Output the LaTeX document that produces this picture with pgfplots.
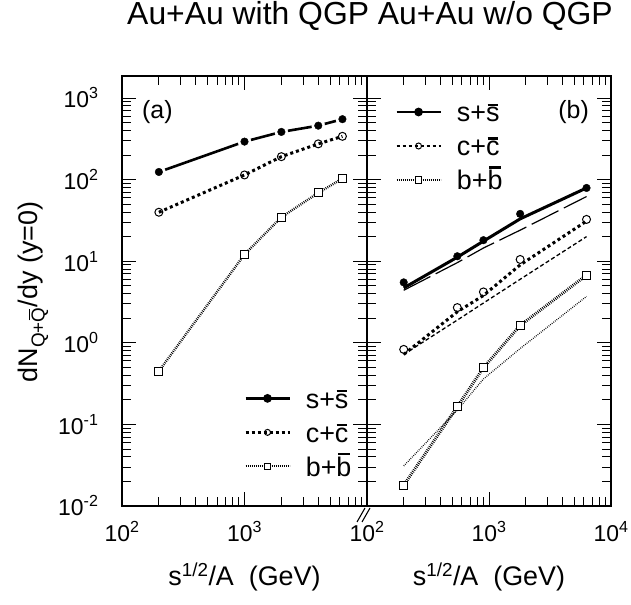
\documentclass[border=0pt]{standalone}
\usepackage{fontspec}
\setmainfont{Liberation Sans}
\usepackage{pgfplots}
\pgfplotsset{compat=1.18}
\usepackage{pgfplotstable}

\newcommand{\ob}[1]{\leavevmode\setbox0\hbox{#1}\rlap{\raisebox{\dimexpr\ht0+0.07em\relax}{\hspace{0.12\wd0}\rule{0.76\wd0}{0.08em}}}#1}

% panel (a): markers
\pgfplotstableread{
x s c b
200 124 39.8 0.45
1000 292 114 12.1
2000 384 191 34.6
4000 458 274 68.8
6300 550 339 103
}\dataA
% panel (b): markers
\pgfplotstableread{
x s c b
200 5.5 0.83 0.018
550 11.5 2.7 0.165
900 18.1 4.2 0.495
1800 38 10.5 1.63
6300 79 32.5 6.75
}\dataB
% panel (b): thick curves
\pgfplotstableread{
x s c b
200 4.7 0.72 0.018
550 11.2 2.4 0.165
900 17.6 3.8 0.495
1800 33 9.0 1.63
6300 79 31 6.75
}\thickB
% panel (b): thin curves
\pgfplotstableread{
x s c b
200 4.4 0.72 0.031
550 9.6 1.9 0.15
900 14.5 3.07 0.36
1800 24 6.0 0.85
6300 62 20 3.7
}\thinB

\tikzset{
  sline/.style={line width=2.6bp},
  cline/.style={line width=3bp, dash pattern=on 3bp off 3bp},
  bline/.style={line width=2.4bp, dash pattern=on 0.8bp off 1.2bp},
}

\begin{document}
\begin{tikzpicture}
\useasboundingbox (0bp,0bp) rectangle (631bp,605bp);

% ---------- panel (a) ----------
\begin{axis}[at={(122bp,99bp)}, anchor=south west,
    scale only axis, width=245bp, height=430bp,
    xmode=log, ymode=log, xmin=100, xmax=10000, ymin=0.01, ymax=1860,
    tick align=inside, major tick length=14bp, minor tick length=9bp,
    axis line style={line width=1.8bp},
    every tick/.style={line width=0.9bp, black},
    tick label style={font=\fontsize{23}{23}\selectfont},
    xticklabel style={yshift=-12bp},
    yticklabel style={xshift=-20bp},
    ytick={0.01,0.1,1,10,100,1000},
    xtick={100,1000,10000}, xticklabels={10\textsuperscript{2},10\textsuperscript{3},{}},
    yticklabels={10\textsuperscript{-2},10\textsuperscript{-1},10\textsuperscript{0},10\textsuperscript{1},10\textsuperscript{2},10\textsuperscript{3}},
    legend cell align=left,
    legend style={draw=none, fill=none, font=\fontsize{27}{27}\selectfont,
      at={(0.498,0.274)}, anchor=north west, row sep=14bp, column sep=15bp, inner sep=0pt,
      nodes={inner sep=0pt, text height=20bp, text depth=0bp}},
    legend image code/.code={\draw[mark repeat=2,mark phase=2,#1] plot coordinates {(0bp,0bp) (22bp,0bp) (44bp,0bp)};},
]
\addplot[sline, forget plot] table[x=x,y=s]{\dataA};
\addplot[only marks, mark=*, mark size=6.5bp, white, forget plot] table[x=x,y=s]{\dataA};
\addplot[only marks, mark=*, mark size=3.8bp, black, forget plot] table[x=x,y=s]{\dataA};
\addplot[cline, mark=o, mark size=4bp, mark options={solid, fill=white, line width=1bp}, forget plot] table[x=x,y=c]{\dataA};
\addplot[bline, mark=square*, mark size=4bp, mark options={solid, fill=white, line width=1bp}, forget plot] table[x=x,y=b]{\dataA};

\addlegendimage{line width=2.6bp, mark=*, mark size=3bp, mark options={solid, fill=black}}
\addlegendentry{s+\ob{s}}
\addlegendimage{line width=2.6bp, dash pattern=on 3bp off 3bp, mark=o, mark size=3bp, mark options={solid, fill=white, line width=1bp}}
\addlegendentry{c+\ob{c}}
\addlegendimage{line width=2bp, dash pattern=on 0.8bp off 1.2bp, mark=square*, mark size=3.2bp, mark options={solid, fill=white, line width=0.8bp}}
\addlegendentry{b+\ob{b}}
\end{axis}

% ---------- panel (b) ----------
\begin{axis}[at={(367bp,99bp)}, anchor=south west,
    scale only axis, width=244bp, height=430bp,
    xmode=log, ymode=log, xmin=100, xmax=10000, ymin=0.01, ymax=1860,
    tick align=inside, major tick length=14bp, minor tick length=9bp,
    axis line style={line width=1.8bp},
    every tick/.style={line width=0.9bp, black},
    tick label style={font=\fontsize{23}{23}\selectfont},
    xticklabel style={yshift=-12bp},
    ytick={0.01,0.1,1,10,100,1000},
    yticklabels={\mbox{},\mbox{},\mbox{},\mbox{},\mbox{},\mbox{}},
    xtick={100,1000,10000}, xticklabels={10\textsuperscript{2},10\textsuperscript{3},10\textsuperscript{4}},
    legend cell align=left,
    legend style={draw=none, fill=none, font=\fontsize{27}{27}\selectfont,
      at={(0.115,0.940)}, anchor=north west, row sep=14bp, column sep=15bp, inner sep=0pt,
      nodes={inner sep=0pt, text height=20bp, text depth=0bp}},
    legend image code/.code={\draw[mark repeat=2,mark phase=2,#1] plot coordinates {(0bp,0bp) (22bp,0bp) (44bp,0bp)};},
]
% thin curves
\addplot[line width=1.2bp, dash pattern=on 30bp off 6bp, forget plot] table[x=x,y=s]{\thinB};
\addplot[line width=1.3bp, dash pattern=on 4bp off 2.5bp, forget plot] table[x=x,y=c]{\thinB};
\addplot[line width=1.3bp, dash pattern=on 0.7bp off 1.3bp, forget plot] table[x=x,y=b]{\thinB};
% thick curves
\addplot[line width=3bp, forget plot] table[x=x,y=s]{\thickB};
\addplot[cline, forget plot] table[x=x,y=c]{\thickB};
\addplot[line width=3bp, dash pattern=on 0.8bp off 1.2bp, forget plot] table[x=x,y=b]{\thickB};
% markers
\addplot[only marks, mark=*, mark size=3.8bp, black, forget plot] table[x=x,y=s]{\dataB};
\addplot[only marks, mark=o, mark size=4bp, mark options={fill=white, line width=1bp}, forget plot] table[x=x,y=c]{\dataB};
\addplot[only marks, mark=square*, mark size=4bp, mark options={fill=white, line width=1bp}, forget plot] table[x=x,y=b]{\dataB};

\addlegendimage{line width=2.6bp, mark=*, mark size=3bp, mark options={solid, fill=black}}
\addlegendentry{s+\ob{s}}
\addlegendimage{line width=2.6bp, dash pattern=on 3bp off 3bp, mark=o, mark size=3bp, mark options={solid, fill=white, line width=1bp}}
\addlegendentry{c+\ob{c}}
\addlegendimage{line width=2bp, dash pattern=on 0.8bp off 1.2bp, mark=square*, mark size=3.2bp, mark options={solid, fill=white, line width=0.8bp}}
\addlegendentry{b+\ob{b}}
\end{axis}

% break mark
\draw[line width=1.1bp] (357bp,83bp) -- (365bp,97bp);
\draw[line width=1.1bp] (362bp,83bp) -- (370bp,97bp);

% panel labels
\node[anchor=west, font=\fontsize{25}{25}\selectfont, inner sep=0pt] at (142bp,493bp) {(a)};
\node[anchor=east, font=\fontsize{25}{25}\selectfont, inner sep=0pt] at (589bp,493bp) {(b)};

% title
\node[anchor=base, font=\fontsize{32}{32}\selectfont, inner sep=0pt] at (370bp,580bp) {Au+Au with QGP Au+Au w/o QGP};

% axis labels
\node[anchor=base, font=\fontsize{27}{27}\selectfont, inner sep=0pt] at (244.5bp,20bp) {s\textsuperscript{1/2}/A\ \ (GeV)};
\node[anchor=base, font=\fontsize{27}{27}\selectfont, inner sep=0pt] at (489bp,20bp) {s\textsuperscript{1/2}/A\ \ (GeV)};
\node[rotate=90, font=\fontsize{27}{27}\selectfont, inner sep=0pt] at (33bp,313bp) {dN\textsubscript{Q+\ob{Q}}/dy (y=0)};
\end{tikzpicture}
\end{document}
